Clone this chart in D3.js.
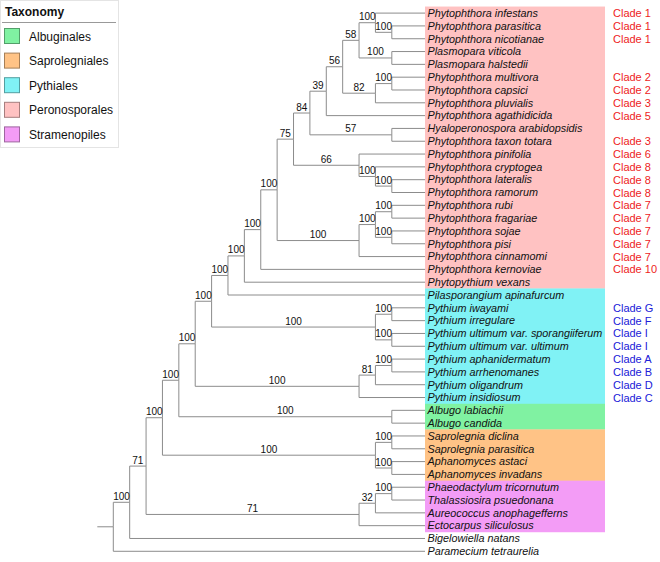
<!DOCTYPE html>
<html>
<head>
<meta charset="utf-8">
<script src="https://cdn.jsdelivr.net/npm/d3@7"></script>
<style>
  html, body { margin: 0; padding: 0; background: #fff; }
  svg { display: block; font-family: "Liberation Sans", Arial, sans-serif; }
</style>
</head>
<body>
<svg id="chart" width="660" height="562"></svg>
<script>
// ---- DATA ----
const species = [
  "Phytophthora infestans", "Phytophthora parasitica", "Phytophthora nicotianae",
  "Plasmopara viticola", "Plasmopara halstedii", "Phytophthora multivora",
  "Phytophthora capsici", "Phytophthora pluvialis", "Phytophthora agathidicida",
  "Hyaloperonospora arabidopsidis", "Phytophthora taxon totara", "Phytophthora pinifolia",
  "Phytophthora cryptogea", "Phytophthora lateralis", "Phytophthora ramorum",
  "Phytophthora rubi", "Phytophthora fragariae", "Phytophthora sojae", "Phytophthora pisi",
  "Phytophthora cinnamomi", "Phytophthora kernoviae", "Phytopythium vexans",
  "Pilasporangium apinafurcum", "Pythium iwayami", "Pythium irregulare",
  "Pythium ultimum var. sporangiiferum", "Pythium ultimum var. ultimum",
  "Pythium aphanidermatum", "Pythium arrhenomanes", "Pythium oligandrum",
  "Pythium insidiosum", "Albugo labiachii", "Albugo candida", "Saprolegnia diclina",
  "Saprolegnia parasitica", "Aphanomyces astaci", "Aphanomyces invadans",
  "Phaeodactylum tricornutum", "Thalassiosira psuedonana", "Aureococcus anophagefferns",
  "Ectocarpus siliculosus", "Bigelowiella natans", "Paramecium tetraurelia"
];
const cladeLabels = [
  "Clade 1", "Clade 1", "Clade 1", "", "", "Clade 2", "Clade 2", "Clade 3", "Clade 5",
  "", "Clade 3", "Clade 6", "Clade 8", "Clade 8", "Clade 8", "Clade 7", "Clade 7",
  "Clade 7", "Clade 7", "Clade 7", "Clade 10", "", "", "Clade G", "Clade F", "Clade I",
  "Clade I", "Clade A", "Clade B", "Clade D", "Clade C", "", "", "", "", "", "", "", "",
  "", "", "", ""
];
// Topology: leaves are indices into `species`, numbers after ')' are bootstrap supports
const topology = "(((((((((((((((((0,(1,2)100)100,(3,4)100)58,((5,6)100,7)82)56,8)39,(9,10)57)84,(11,(12,(13,14)100)100)66)75,(((15,16)100,(17,18)100)100,19)100)100,20)100,21)100,22)100,((23,24)100,(25,26)100)100)100,(((27,28)100,29)81,30)100)100,(31,32)100)100,((33,34)100,(35,36)100)100)100,(((37,38)100,39)32,40)71)71,41)100,42);";
const groupNames = ["Peronosporales", "Pythiales", "Albuginales", "Saprolegniales", "Stramenopiles"];
const groupFirst = [0, 22, 31, 33, 37];
const groupLast  = [21, 30, 32, 36, 40];
const groupColors = {
  "Albuginales": "#80f2a2",
  "Saprolegniales": "#ffc386",
  "Pythiales": "#80f2f5",
  "Peronosporales": "#ffc2c2",
  "Stramenopiles": "#f39cf6"
};
const legendOrder = ["Albuginales", "Saprolegniales", "Pythiales", "Peronosporales", "Stramenopiles"];
const cladeColorByGroup = { "Peronosporales": "#ee1c1c", "Pythiales": "#2020d8" };

// ---- NEWICK PARSER ----
function parseNewick(s) {
  let i = 0;
  function node() {
    const n = {};
    if (s[i] === "(") {
      i++;
      n.children = [];
      while (true) {
        n.children.push(node());
        if (s[i] === ",") { i++; continue; }
        if (s[i] === ")") { i++; break; }
        throw new Error("bad newick at " + i);
      }
    }
    let tok = "";
    while (i < s.length && !",();".includes(s[i])) tok += s[i++];
    if (n.children) { if (tok) n.support = tok; }
    else n.leaf = +tok;
    return n;
  }
  return node();
}

// ---- LAYOUT ----
const svg = d3.select("#chart");
const root = d3.hierarchy(parseNewick(topology));
d3.cluster().size([1, 1]).separation(() => 1)(root);

const yScale = d3.scaleLinear().domain([0, 1]).range([6.7, 557.7]);   // vertical (leaf order)
const xScale = d3.scaleLinear().domain([0, 1]).range([113.3, 408.2]); // horizontal (depth)
const leafX = 425;
const rowH = (yScale(1) - yScale(0)) / (species.length - 1);

root.each(d => { d.px = d.children ? xScale(d.y) : leafX; d.py = yScale(d.x); });
const leaves = root.leaves();
const leafY = {};
leaves.forEach(l => leafY[l.data.leaf] = l.py);

// ---- GROUP BACKGROUNDS ----
const boxes = svg.append("g");
groupNames.forEach((g, k) => {
  const y0 = leafY[groupFirst[k]] - rowH / 2;
  const y1 = leafY[groupLast[k]] + rowH / 2;
  boxes.append("rect")
    .attr("x", leafX).attr("y", y0)
    .attr("width", 605 - leafX).attr("height", y1 - y0)
    .attr("fill", groupColors[g]);
});

// ---- BRANCHES ----
const links = svg.append("g").attr("fill", "none").attr("stroke", "#8c8c8c").attr("stroke-width", 1);
root.links().forEach(({ source, target }) => {
  links.append("path")
    .attr("d", `M${source.px},${source.py}V${target.py}H${target.px}`);
});
links.append("path").attr("d", `M${xScale(0) - 16},${root.py}H${xScale(0)}`);

// ---- SUPPORT LABELS ----
const sup = svg.append("g").attr("font-size", 10).attr("fill", "#111").attr("text-anchor", "middle");
root.descendants().forEach(d => {
  if (!d.children || !d.data.support || !d.parent) return;
  sup.append("text")
    .attr("x", (d.parent.px + d.px) / 2)
    .attr("y", d.py - 2.5)
    .text(d.data.support);
});

// ---- LEAF LABELS ----
const lab = svg.append("g");
leaves.forEach(l => {
  const idx = l.data.leaf;
  lab.append("text")
    .attr("x", leafX + 2.5).attr("y", l.py + 3.8)
    .attr("font-size", 10.8).attr("font-style", "italic").attr("fill", "#111")
    .text(species[idx]);
  if (cladeLabels[idx]) {
    const gk = groupFirst.findIndex((f, k) => idx >= f && idx <= groupLast[k]);
    lab.append("text")
      .attr("x", 613).attr("y", l.py + 4)
      .attr("font-size", 11).attr("fill", cladeColorByGroup[groupNames[gk]])
      .text(cladeLabels[idx]);
  }
});

// ---- LEGEND ----
const lg = svg.append("g");
lg.append("rect").attr("x", 0.5).attr("y", 0.5).attr("width", 118).attr("height", 147)
  .attr("fill", "#fff").attr("stroke", "#e4e4e4");
lg.append("text").attr("x", 5).attr("y", 16).attr("font-size", 12).attr("font-weight", "bold")
  .attr("fill", "#111").text("Taxonomy");
lg.append("line").attr("x1", 2).attr("x2", 116).attr("y1", 22.5).attr("y2", 22.5)
  .attr("stroke", "#999");
legendOrder.forEach((g, i) => {
  const y = 28 + i * 24.6;
  lg.append("rect").attr("x", 4.5).attr("y", y + 0.5).attr("width", 15).attr("height", 15)
    .attr("fill", groupColors[g]).attr("stroke", d3.color(groupColors[g]).darker(1.2));
  lg.append("text").attr("x", 29).attr("y", y + 12.5).attr("font-size", 12).attr("fill", "#111")
    .text(g);
});
</script>
</body>
</html>
